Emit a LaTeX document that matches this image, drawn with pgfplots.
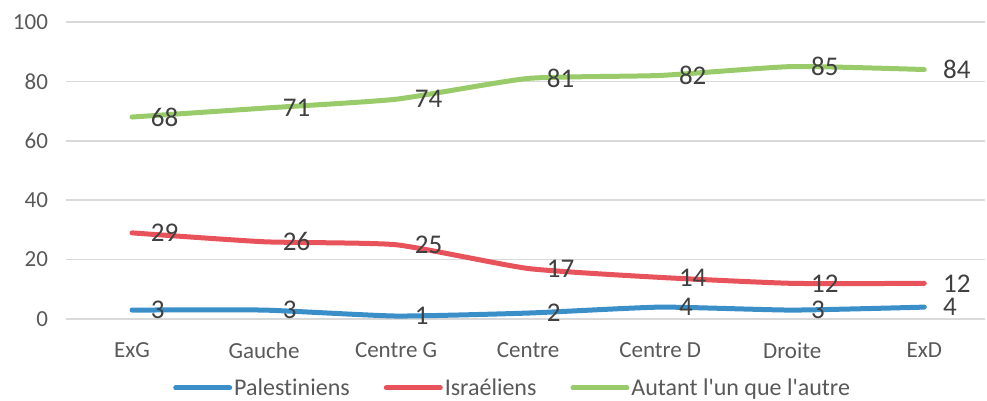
\documentclass[border=0pt]{standalone}
\usepackage{pgfplots}
\pgfplotsset{compat=1.18}
\usepackage{fontspec}
\setmainfont{Carlito}[Ligatures={NoCommon}]
\definecolor{cblue}{HTML}{3A8FC8}
\definecolor{cred}{HTML}{E8535B}
\definecolor{cgreen}{HTML}{9ACB6A}
\definecolor{cgrid}{HTML}{D9D9D9}
\definecolor{ctick}{HTML}{595959}
\definecolor{clab}{HTML}{404040}
\begin{document}
\begin{tikzpicture}
\useasboundingbox (-66pt,-82pt) rectangle (921pt,319pt);
\begin{axis}[
  at={(0pt,0pt)}, anchor=south west,
  scale only axis, width=919pt, height=297pt,
  xmin=-0.5, xmax=6.46, ymin=0, ymax=100,
  axis line style={draw=none},
  ytick={0,20,40,60,80,100},
  xtick={0,1,2,3,4,5,6},
  xticklabels={ExG,Gauche,Centre G,Centre,Centre D,Droite,ExD},
  ymajorgrids, major grid style={cgrid, line width=1.5pt},
  tick style={draw=none},
  /pgf/number format/assume math mode=true,
  ticklabel style={font=\fontsize{23}{27}\selectfont, text=ctick},
  yticklabel style={xshift=-14.5pt},
  xticklabel style={yshift=-20pt},
  clip=false,
  nodes near coords,
  every node near coord/.append style={anchor=west, xshift=13pt, yshift=0pt, font=\fontsize{27}{32}\selectfont, text=clab},
  nodes near coords align={anchor=west},
  every axis plot/.append style={line width=5pt, line cap=round, smooth, tension=0.3, mark=none},
  legend columns=3,
  legend style={at={(0.486,-0.232)}, anchor=center, draw=none, fill=none,
    font=\fontsize{24}{28}\selectfont, text=ctick,
    /tikz/every even column/.append style={column sep=32pt}},
  legend image code/.code={\draw[#1] (0pt,0pt) -- (54pt,0pt);},
]
\addplot[cblue] coordinates {(0,3) (1,3) (2,1) (3,2) (4,4) (5,3) (6,4)};
\addlegendentry{Palestiniens}
\addplot[cred] coordinates {(0,29) (1,26) (2,25) (3,17) (4,14) (5,12) (6,12)};
\addlegendentry{Israéliens}
\addplot[cgreen] coordinates {(0,68) (1,71) (2,74) (3,81) (4,82) (5,85) (6,84)};
\addlegendentry{Autant l\textquotesingle un que l\textquotesingle autre}
\end{axis}
\end{tikzpicture}
\end{document}
